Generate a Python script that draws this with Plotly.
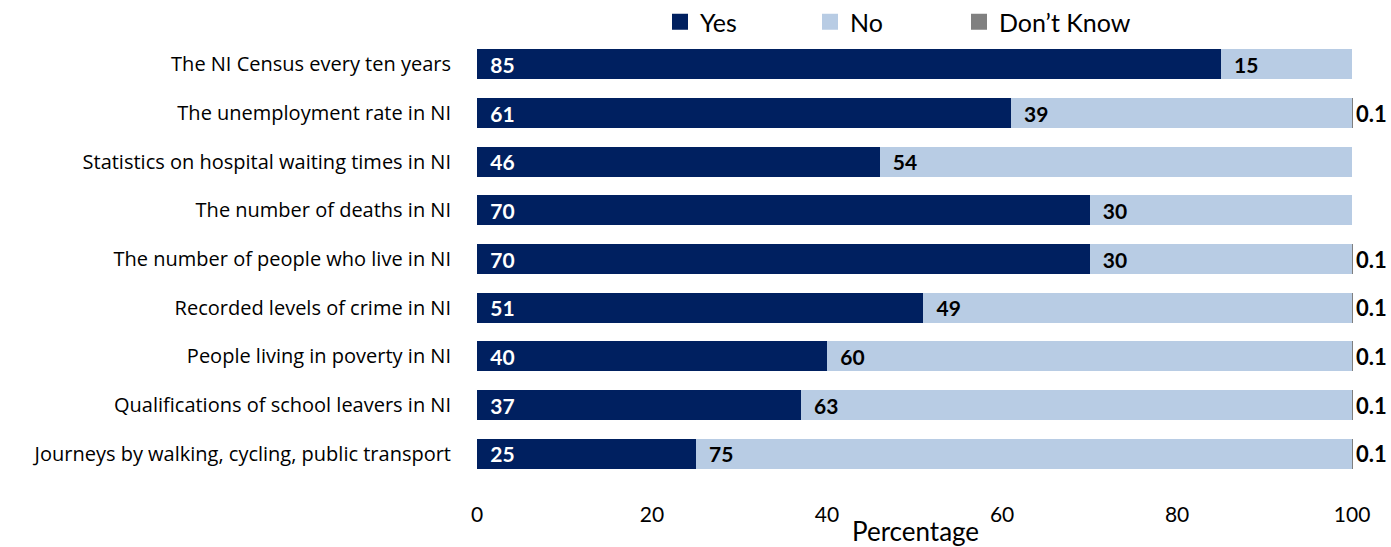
import plotly.graph_objects as go

# Survey items, top to bottom
categories = [
    "The NI Census every ten years",
    "The unemployment rate in NI",
    "Statistics on hospital waiting times in NI",
    "The number of deaths in NI",
    "The number of people who live in NI",
    "Recorded levels of crime in NI",
    "People living in poverty in NI",
    "Qualifications of school leavers in NI",
    "Journeys by walking, cycling, public transport",
]
yes_pct = [85, 61, 46, 70, 70, 51, 40, 37, 25]
no_pct = [15, 39, 54, 30, 30, 49, 60, 63, 75]
dont_know_pct = [0, 0.1, 0, 0, 0.1, 0.1, 0.1, 0.1, 0.1]
series_names = ["Yes", "No", "Don\u2019t Know"]
x_ticks = [0, 20, 40, 60, 80, 100]

FONT = "Lato"
CAT_FONT = "Open Sans"
COLORS = ["#002060", "#B8CCE4", "#808080"]

def labels(vals, pad):
    return [(pad + f"{v:g}") if v else "" for v in vals]

fig = go.Figure()
fig.add_trace(go.Bar(
    y=categories, x=yes_pct, name=series_names[0], orientation="h",
    marker=dict(color=COLORS[0], line=dict(width=0)), showlegend=False,
    text=labels(yes_pct, "  "), textposition="inside", insidetextanchor="start",
    textfont=dict(family=FONT, size=21, color="white", weight="bold"),
    constraintext="none", cliponaxis=False,
))
fig.add_trace(go.Bar(
    y=categories, x=no_pct, name=series_names[1], orientation="h",
    marker=dict(color=COLORS[1], line=dict(width=0)), showlegend=False,
    text=labels(no_pct, "  "), textposition="inside", insidetextanchor="start",
    textfont=dict(family=FONT, size=21, color="black", weight="bold"),
    constraintext="none", cliponaxis=False,
))
fig.add_trace(go.Bar(
    y=categories, x=dont_know_pct, name=series_names[2], orientation="h",
    marker=dict(color=COLORS[2], line=dict(width=0)), showlegend=False,
    text=labels(dont_know_pct, ""), textposition="outside",
    textfont=dict(family=FONT, size=22, color="black", weight="bold"),
    constraintext="none", cliponaxis=False,
))

# Square legend keys, one legend box per series so they sit evenly spaced
legend_ids = ["legend", "legend2", "legend3"]
legend_left_px = [660, 810, 959]
for name, color, lid in zip(series_names, COLORS, legend_ids):
    fig.add_trace(go.Scatter(
        x=[None], y=[None], mode="markers", name=name, legend=lid,
        marker=dict(symbol="square", size=16, color=color),
    ))

legend_style = dict(
    orientation="h", yref="container", y=1 - 22 / 547, yanchor="middle",
    xref="container", xanchor="left",
    font=dict(family=FONT, size=25), itemsizing="trace",
    bgcolor="rgba(0,0,0,0)", borderwidth=0,
)

fig.update_layout(
    barmode="stack",
    bargap=0.38,
    width=1391, height=547,
    margin=dict(l=477, r=38, t=40, b=69, autoexpand=False),
    paper_bgcolor="white", plot_bgcolor="white",
    font=dict(family=FONT, color="black"),
    showlegend=True,
    legend=dict(legend_style, x=legend_left_px[0] / 1391),
    legend2=dict(legend_style, x=legend_left_px[1] / 1391),
    legend3=dict(legend_style, x=legend_left_px[2] / 1391),
    xaxis=dict(
        range=[0, 100.1], tickvals=x_ticks,
        showgrid=False, zeroline=False, showline=False,
        ticks="outside", ticklen=18, tickcolor="rgba(0,0,0,0)",
        tickfont=dict(family=FONT, size=21),
    ),
    yaxis=dict(
        categoryorder="array", categoryarray=categories, autorange="reversed",
        showgrid=False, showline=False,
        ticks="outside", ticklen=21, tickcolor="rgba(0,0,0,0)",
        tickfont=dict(family=CAT_FONT, size=20),
    ),
    annotations=[dict(
        text="Percentage", xref="paper", yref="paper",
        x=0.5, y=-(513 - 478) / 438, xanchor="center", yanchor="top",
        showarrow=False, font=dict(family=FONT, size=26),
    )],
)

fig.write_html("out.html")
